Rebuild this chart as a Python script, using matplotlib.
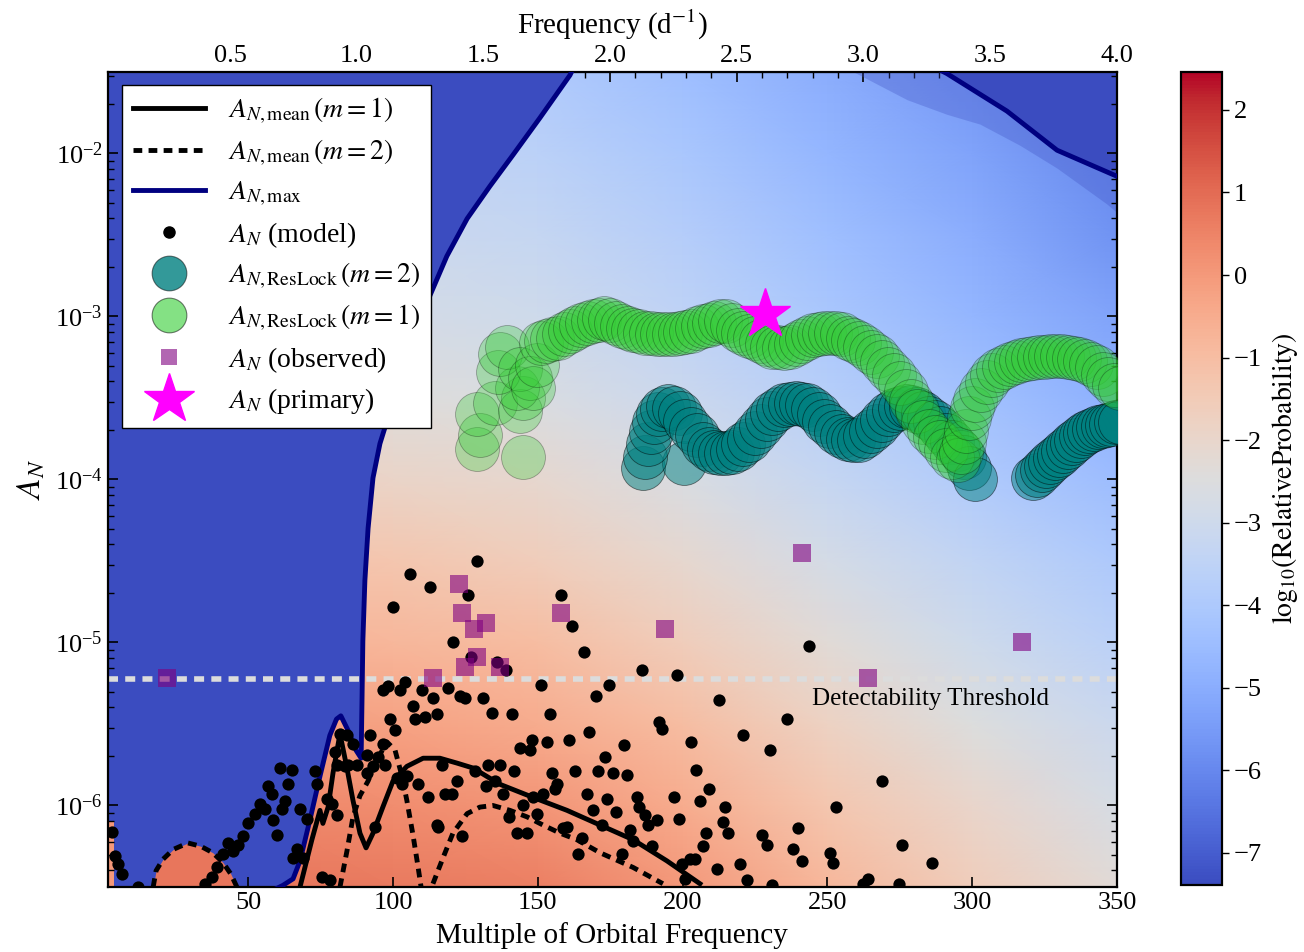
import numpy as np
import matplotlib
matplotlib.use('Agg')
import matplotlib.pyplot as plt
from matplotlib.colors import Normalize
from matplotlib.lines import Line2D
from matplotlib.ticker import MultipleLocator, LogLocator, NullFormatter, NullLocator

plt.rcParams['font.family'] = ['Liberation Serif', 'DejaVu Serif']
plt.rcParams['mathtext.fontset'] = 'stix'

# orbital frequency in d^-1 (top axis = N * f_orb)
f_orb = 1 / 87.457
threshold = 6e-6

# background map: log10(relative probability), rows = log10(A_N), columns = N
bg_n = [0, 50, 100, 150, 200, 250, 300, 350]
bg_logA = [-6.5, -6.0, -5.5, -5.0, -4.5, -4.0, -3.5, -3.0, -2.5, -2.0, -1.5]
bg_val = [
    [0.8, 0.8, 0.7, 0.6, 0.0, -0.8, -1.6, -2.3],
    [0.4, 0.4, 0.3, 0.1, -0.5, -1.3, -2.0, -2.7],
    [-0.1, -0.1, -0.2, -0.5, -1.0, -1.8, -2.5, -3.1],
    [-0.7, -0.7, -0.8, -1.0, -1.6, -2.3, -3.0, -3.6],
    [-1.2, -1.2, -1.3, -1.6, -2.1, -2.8, -3.4, -4.0],
    [-1.8, -1.8, -1.9, -2.1, -2.6, -3.3, -3.9, -4.5],
    [-2.3, -2.3, -2.4, -2.6, -3.1, -3.7, -4.3, -4.9],
    [-2.7, -2.7, -2.8, -3.0, -3.5, -4.1, -4.7, -5.3],
    [-3.0, -3.0, -3.1, -3.3, -3.8, -4.4, -5.0, -5.7],
    [-3.2, -3.2, -3.3, -3.6, -4.1, -4.7, -5.3, -6.0],
    [-3.5, -3.5, -3.6, -3.9, -4.4, -5.0, -5.6, -6.3],
]
vmin, vmax = -7.39, 2.46

# A_N,max (m=1) left branch and upper right branch
amax_n = [57.0, 58.6, 62.0, 65.5, 67.9, 71.3, 74.8, 78.2, 80.5, 82.0, 84.5, 87.2, 89.0,
          89.3, 89.6, 90.3, 91.4, 93.1, 95.5, 99.0, 103.1, 107.6, 112.8, 118.6, 125.6,
          133.5, 141.4, 150.8, 161.1, 163.0]
amax_logA = [-6.60, -6.52, -6.49, -6.45, -6.34, -6.09, -5.82, -5.57, -5.47, -5.45, -5.54,
             -5.66, -5.71, -5.36, -4.99, -4.62, -4.30, -3.99, -3.78, -3.58, -3.41, -3.13,
             -2.87, -2.63, -2.40, -2.20, -2.01, -1.78, -1.52, -1.45]
amax2_n = [288.0, 291.3, 312.0, 329.3, 350.0, 352.0]
amax2_logA = [-1.48, -1.51, -1.74, -1.98, -2.14, -2.15]
edge_n = [258.0, 261.3, 277.5, 291.3, 302.7, 316.5, 329.3, 346.5, 350.5]
edge_logA = [-1.49, -1.52, -1.67, -1.76, -1.82, -1.95, -2.09, -2.31, -2.37]

# A_N,mean (m=1)
mean1_n = [67.9, 72.0, 74.8, 75.8, 77.6, 79.3, 80.7, 81.7, 84.1, 86.2, 88.6, 90.7, 93.1,
           96.5, 100.0, 104.8, 110.4, 116.2, 122.1, 127.6, 136.9, 148.3, 160.1, 171.5,
           182.9, 194.6, 206.0]
mean1_logA = [-6.50, -6.21, -6.03, -6.11, -6.01, -5.80, -5.66, -5.56, -5.77, -5.97, -6.17,
              -6.26, -6.17, -6.01, -5.85, -5.76, -5.71, -5.71, -5.74, -5.77, -5.87, -5.95,
              -6.03, -6.12, -6.21, -6.34, -6.48]

# A_N,mean (m=2), three visible pieces
mean2a_n = [17.2, 18.2, 20.6, 24.1, 29.2, 33.6, 37.8, 41.3, 44.0, 46.1]
mean2a_logA = [-6.50, -6.40, -6.33, -6.27, -6.23, -6.25, -6.29, -6.35, -6.42, -6.50]
mean2b_n = [81.7, 84.1, 86.2, 88.6, 91.4, 94.5, 97.9, 100.7, 103.1, 104.8, 106.9, 108.6, 109.7]
mean2b_logA = [-6.50, -6.28, -6.07, -5.94, -5.85, -5.72, -5.61, -5.66, -5.82, -5.97, -6.18,
               -6.37, -6.50]
mean2c_n = [113.8, 117.3, 120.7, 125.6, 130.0, 134.5, 140.4, 146.3, 151.8, 157.7, 163.5,
            171.5, 182.9, 193.2]
mean2c_logA = [-6.48, -6.32, -6.17, -6.05, -6.01, -6.00, -6.03, -6.07, -6.12, -6.17, -6.21,
               -6.29, -6.38, -6.48]

# A_N (model)
model_n = [99.9, 96.7, 98.4, 102.4, 104.1, 109.9, 113.9, 107.0, 107.6, 111.0, 115.1, 99.0,
           100.7, 92.1, 81.7, 84.0, 86.3, 96.7, 90.9, 94.9, 97.2, 80.0, 80.6, 87.5, 83.4,
           93.2, 90.9, 101.3, 104.7, 108.7, 112.2, 115.6, 61.0, 65.0, 73.1, 73.7, 56.9,
           58.1, 63.8, 54.1, 55.8, 62.7, 61.6, 67.9, 70.2, 77.1, 78.8, 80.6, 58.7, 52.3,
           50.0, 59.8, 48.3, 46.6, 43.1, 44.9, 41.4, 39.1, 37.4, 35.1, 66.7, 65.6, 69.0,
           75.4, 78.2, 93.8, 2.9, 4.0, 5.2, 6.3, 12.0, 120.8, 119.1, 123.1, 124.9, 84.6,
           103.0, 116.8, 122.0, 118.0, 120.3, 115.1, 123.7,
           128.9, 105.9, 112.8, 126.0, 158.0, 161.9, 166.1, 126.9, 135.8, 139.0, 185.9,
           198.0, 151.0, 174.7, 131.0, 170.0, 212.7, 134.1, 141.0, 154.2, 167.8, 191.9,
           193.0, 147.9, 143.9, 147.3, 153.1, 160.9, 179.9, 202.9, 173.2, 132.9, 136.9,
           128.3, 141.8, 154.8, 162.8, 170.9, 175.9, 180.7, 204.6, 132.1, 135.2, 156.5,
           155.9, 137.9, 148.4, 151.9, 166.9, 173.8, 184.2, 185.0, 197.0, 206.0, 209.2,
           145.0, 149.8, 140.2, 169.0, 177.0, 187.0, 188.2, 191.1, 198.9, 213.8, 214.6,
           142.7, 146.2, 158.8, 160.0, 165.2, 172.1, 181.8, 183.0, 189.3, 208.1, 215.6,
           206.9, 164.0, 179.0, 199.7, 202.6, 204.3, 200.8, 211.8,
           243.8, 236.2, 221.0, 230.2, 268.7, 253.0, 227.3, 229.0, 240.0, 238.0, 241.1,
           250.9, 252.0, 275.9, 219.8, 222.1, 230.8, 262.4, 264.1, 274.8, 286.0]
model_logA = [-4.78, -5.29, -5.27, -5.29, -5.24, -5.29, -5.34, -5.39, -5.47, -5.46, -5.44,
              -5.47, -5.54, -5.57, -5.56, -5.57, -5.62, -5.62, -5.69, -5.70, -5.75, -5.67,
              -5.75, -5.75, -5.76, -5.76, -5.80, -5.83, -5.82, -5.87, -5.95, -6.13, -5.77,
              -5.78, -5.79, -5.87, -5.88, -5.93, -5.87, -5.99, -6.02, -5.97, -6.02, -6.02,
              -6.08, -5.96, -5.99, -6.06, -6.09, -6.05, -6.11, -6.18, -6.19, -6.24, -6.23,
              -6.28, -6.30, -6.38, -6.44, -6.48, -6.27, -6.32, -6.32, -6.44, -6.46, -6.13,
              -6.16, -6.31, -6.36, -6.42, -6.50, -5.00, -5.28, -5.33, -5.34, -5.75, -5.87,
              -5.75, -5.85, -5.93, -5.93, -6.12, -6.19,
              -4.50, -4.58, -4.66, -4.71, -4.71, -4.90, -5.06, -5.09, -5.12, -5.17, -5.17,
              -5.20, -5.26, -5.26, -5.34, -5.33, -5.35, -5.43, -5.44, -5.44, -5.55, -5.49,
              -5.53, -5.60, -5.65, -5.66, -5.61, -5.60, -5.63, -5.61, -5.70, -5.75, -5.75,
              -5.79, -5.79, -5.80, -5.79, -5.79, -5.80, -5.81, -5.78, -5.88, -5.85, -5.87,
              -5.90, -5.93, -5.95, -5.93, -5.93, -5.96, -5.95, -6.01, -5.95, -5.97, -5.90,
              -6.00, -6.05, -6.07, -6.03, -6.04, -6.06, -6.12, -6.09, -6.08, -6.10, -6.01,
              -6.17, -6.17, -6.14, -6.13, -6.20, -6.12, -6.15, -6.22, -6.25, -6.17, -6.17,
              -6.25, -6.30, -6.30, -6.36, -6.33, -6.33, -6.45, -6.39,
              -5.02, -5.47, -5.57, -5.66, -5.85, -6.01, -6.18, -6.24, -6.14, -6.27, -6.34,
              -6.29, -6.35, -6.24, -6.36, -6.46, -6.49, -6.48, -6.45, -6.48, -6.35]

# A_N (observed)
obs_n = [22.0, 122.9, 123.9, 132.0, 128.1, 128.9, 124.9, 136.9, 113.9, 158.0, 193.9,
         241.1, 263.9, 317.1]
obs_logA = [-5.22, -4.64, -4.82, -4.88, -4.92, -5.09, -5.15, -5.15, -5.22, -4.82, -4.92,
            -4.45, -5.22, -5.00]

# A_N (primary)
prim_n = [228.5]
prim_A = [1.03e-3]

# A_N,ResLock (m=1)
lock1_n = [128.9, 145.0, 130.0, 128.9, 135.2, 143.9, 145.0, 142.7, 136.4, 136.9, 139.3,
           143.9, 147.3, 148.4, 149.6,
           151, 153, 155, 157, 159, 161, 163, 165, 167, 169, 171, 173, 175, 177, 179, 181,
           183, 185, 187, 189, 191, 193, 195, 197, 199, 201, 203, 205, 207, 209, 211, 213,
           215, 217, 219, 221, 223, 225, 227, 229, 231, 233, 235, 237, 239, 241, 243, 245,
           247, 249, 251, 253, 255, 257, 259, 261, 263, 265, 267, 269, 271, 273, 275, 277,
           279, 281, 283, 285, 287, 289, 291, 293, 295, 296, 297, 298, 299, 300, 301, 303,
           305, 307, 309, 311, 313, 315, 317, 319, 321, 323, 325, 327, 329, 331, 333, 335,
           337, 339, 341, 343, 345, 347, 349, 351]
lock1_logA = [-3.81, -3.86, -3.73, -3.60, -3.53, -3.58, -3.50, -3.44, -3.34, -3.23, -3.19,
              -3.32, -3.38, -3.44, -3.30,
              -3.16, -3.15, -3.14, -3.13, -3.11, -3.09, -3.07, -3.05, -3.04, -3.03, -3.02,
              -3.01, -3.02, -3.04, -3.06, -3.07, -3.08, -3.09, -3.10, -3.10, -3.105, -3.11,
              -3.11, -3.11, -3.10, -3.095, -3.09, -3.07, -3.06, -3.05, -3.04, -3.03, -3.03,
              -3.05, -3.08, -3.10, -3.12, -3.135, -3.15, -3.17, -3.185, -3.19, -3.195, -3.19,
              -3.17, -3.15, -3.13, -3.115, -3.105, -3.10, -3.10, -3.10, -3.11, -3.13, -3.145,
              -3.16, -3.19, -3.215, -3.245, -3.28, -3.32, -3.36, -3.41, -3.455, -3.52, -3.58,
              -3.645, -3.70, -3.74, -3.77, -3.82, -3.86, -3.88, -3.83, -3.77, -3.70, -3.62,
              -3.56, -3.51, -3.45, -3.40, -3.36, -3.33, -3.31, -3.29, -3.28, -3.27, -3.26,
              -3.255, -3.25, -3.25, -3.245, -3.245, -3.245, -3.25, -3.255, -3.26, -3.275,
              -3.29, -3.31, -3.35, -3.385, -3.42, -3.44]

# A_N,ResLock (m=2)
lock2_n = [186.4, 200.5,
           187, 188, 189, 190, 191.5, 193, 195, 197, 199, 201, 203, 205, 207, 209, 211, 213,
           215, 217, 219, 221, 223, 225, 227, 229, 231, 233, 235, 237, 239, 241, 243, 245,
           247, 249, 251, 253, 255, 257, 259, 261, 263, 265, 267, 269, 271, 273, 275, 277,
           279, 281, 283, 285, 287, 289, 291, 293, 295, 297, 299, 301,
           321, 322.5, 324, 325.5, 327, 328.5, 330, 331.5, 333, 334.5, 336, 337.5, 339,
           340.5, 342, 343.5, 345, 346.5, 348, 349.5, 351]
lock2_logA = [-3.93, -3.90,
              -3.86, -3.78, -3.71, -3.65, -3.60, -3.57, -3.55, -3.56, -3.59, -3.64, -3.69,
              -3.73, -3.78, -3.81, -3.83, -3.84, -3.84, -3.83, -3.81, -3.785, -3.755, -3.715,
              -3.67, -3.63, -3.595, -3.565, -3.545, -3.535, -3.532, -3.535, -3.545, -3.57,
              -3.60, -3.64, -3.675, -3.71, -3.735, -3.75, -3.76, -3.755, -3.735, -3.705,
              -3.67, -3.635, -3.60, -3.575, -3.56, -3.55, -3.555, -3.57, -3.59, -3.62, -3.65,
              -3.685, -3.73, -3.77, -3.81, -3.86, -3.93, -4.00,
              -3.99, -3.97, -3.94, -3.915, -3.895, -3.87, -3.85, -3.825, -3.80, -3.775,
              -3.755, -3.735, -3.715, -3.70, -3.69, -3.68, -3.67, -3.665, -3.66, -3.65, -3.645]

cmap = plt.get_cmap('coolwarm')
norm = Normalize(vmin=vmin, vmax=vmax)
dark = cmap(0.0)

fig = plt.figure(figsize=(13.04, 9.52), dpi=100)
ax = fig.add_axes([0.0826, 0.0683, 0.7740, 0.8561])
cax = fig.add_axes([0.9057, 0.0704, 0.0314, 0.8540])

X, Y = np.meshgrid(bg_n, 10 ** np.array(bg_logA))
mesh = ax.pcolormesh(X, Y, np.array(bg_val), cmap=cmap, norm=norm, shading='gouraud',
                     rasterized=True, zorder=0)

# regions outside the allowed range (left part: whole column below N of first A_max point)
left_n = np.r_[0.0, amax_n]
left_lo = np.r_[1e-8, 10 ** np.array(amax_logA)]
ax.fill_between(edge_n, 10 ** np.array(edge_logA), 1, color=dark, alpha=0.3, lw=0, zorder=1)
ax.fill_between(left_n, left_lo, 1, color=dark, lw=0, zorder=1)
ax.fill_between(amax2_n, 10 ** np.array(amax2_logA), 1, color=dark, lw=0, zorder=1)
ax.fill_between(mean2a_n, 1e-8, 10 ** np.array(mean2a_logA), color=cmap(norm(0.8)), lw=0, zorder=1)
ax.fill_between([1.5, 3.6], 1e-8, 8e-7, color=cmap(norm(0.0)), lw=0, zorder=1)

ax.axhline(threshold, color='#dcdcdc', lw=4, ls=(0, (1.8, 1.3)), zorder=2)
ax.text(244.7, 4.5e-6, 'Detectability Threshold', fontsize=18, va='center', ha='left', zorder=2)

ax.plot(amax_n, 10 ** np.array(amax_logA), color='navy', lw=3.5, zorder=3)
ax.plot(amax2_n, 10 ** np.array(amax2_logA), color='navy', lw=3.5, zorder=3)
ax.plot(mean1_n, 10 ** np.array(mean1_logA), color='k', lw=3.5, zorder=3)
for nn, la in [(mean2a_n, mean2a_logA), (mean2b_n, mean2b_logA), (mean2c_n, mean2c_logA)]:
    ax.plot(nn, 10 ** np.array(la), color='k', lw=3.5, ls=(0, (1.8, 1.3)), zorder=3)

ax.scatter(model_n, 10 ** np.array(model_logA), s=78, color='k', lw=0, zorder=4)
ax.scatter(obs_n, 10 ** np.array(obs_logA), s=160, marker='s', color='purple', alpha=0.6,
           lw=0, zorder=5)
ax.scatter(lock2_n, 10 ** np.array(lock2_logA), s=1000, color='teal', alpha=0.5,
           edgecolors='k', linewidths=0.6, zorder=6)
ax.scatter(lock1_n, 10 ** np.array(lock1_logA), s=1000, color='limegreen', alpha=0.3,
           edgecolors='k', linewidths=0.6, zorder=7)
ax.plot(prim_n, prim_A, marker='*', ms=38, color='#ff00ff', ls='none', zorder=8)

ax.set_yscale('log')
ax.set_xlim(1.5, 350)
ax.set_ylim(10 ** -6.5, 10 ** -1.5)
ax.xaxis.set_major_locator(MultipleLocator(50))
ax.xaxis.set_minor_locator(NullLocator())
ax.yaxis.set_major_locator(LogLocator(base=10))
ax.yaxis.set_minor_locator(LogLocator(base=10, subs=np.arange(2, 10)))
ax.yaxis.set_minor_formatter(NullFormatter())
ax.tick_params(which='both', direction='in', right=True, labelsize=19)
ax.tick_params(which='major', length=7, width=1.2)
ax.tick_params(which='minor', length=4, width=1)
for sp in ax.spines.values():
    sp.set_linewidth(1.6)
ax.set_xlabel('Multiple of Orbital Frequency', fontsize=21, labelpad=6)
ax.set_ylabel(r'$A_N$', fontsize=24, labelpad=6)

top = ax.secondary_xaxis('top', functions=(lambda n: n * f_orb, lambda f: f / f_orb))
top.xaxis.set_major_locator(MultipleLocator(0.5))
top.xaxis.set_minor_locator(MultipleLocator(0.1))
top.tick_params(which='both', direction='in', labelsize=19)
top.tick_params(which='major', length=7, width=1.2)
top.tick_params(which='minor', length=4, width=1)
top.set_xlabel(r'Frequency (d$^{-1}$)', fontsize=21, labelpad=8)

cb = fig.colorbar(mesh, cax=cax, ticks=range(-7, 3))
cb.outline.set_linewidth(1.6)
cb.ax.tick_params(labelsize=19, length=5, width=1)
cb.set_label(r'$\mathrm{log}_{10}(\mathrm{RelativeProbability})$', fontsize=20, labelpad=6)

handles = [
    Line2D([], [], color='k', lw=3.5),
    Line2D([], [], color='k', lw=3.5, ls=(0, (1.8, 1.3))),
    Line2D([], [], color='navy', lw=3.5),
    Line2D([], [], marker='o', ms=8, color='k', ls='none'),
    Line2D([], [], marker='o', ms=25, ls='none', markerfacecolor=(0, 0.5, 0.5, 0.8),
           markeredgecolor=(0, 0, 0, 0.5), markeredgewidth=0.8),
    Line2D([], [], marker='o', ms=25, ls='none', markerfacecolor=(0.196, 0.804, 0.196, 0.6),
           markeredgecolor=(0, 0, 0, 0.5), markeredgewidth=0.8),
    Line2D([], [], marker='s', ms=11, ls='none', markerfacecolor=(0.5, 0, 0.5, 0.6),
           markeredgewidth=0),
    Line2D([], [], marker='*', ms=38, ls='none', color='#ff00ff'),
]
labels = [r'$A_{N,\mathrm{mean}}\,(m=1)$', r'$A_{N,\mathrm{mean}}\,(m=2)$',
          r'$A_{N,\mathrm{max}}$', r'$A_N$ (model)', r'$A_{N,\mathrm{ResLock}}\,(m=2)$',
          r'$A_{N,\mathrm{ResLock}}\,(m=1)$', r'$A_N$ (observed)', r'$A_N$ (primary)']
leg = ax.legend(handles, labels, loc='upper left', bbox_to_anchor=(0.0142, 0.984),
                borderaxespad=0, fontsize=20, frameon=True, fancybox=False,
                edgecolor='k', framealpha=1, handlelength=2.6, labelspacing=0.42,
                borderpad=0.4)
leg.get_frame().set_linewidth(1.0)
leg.set_zorder(10)

fig.savefig('out.png', dpi=100)
